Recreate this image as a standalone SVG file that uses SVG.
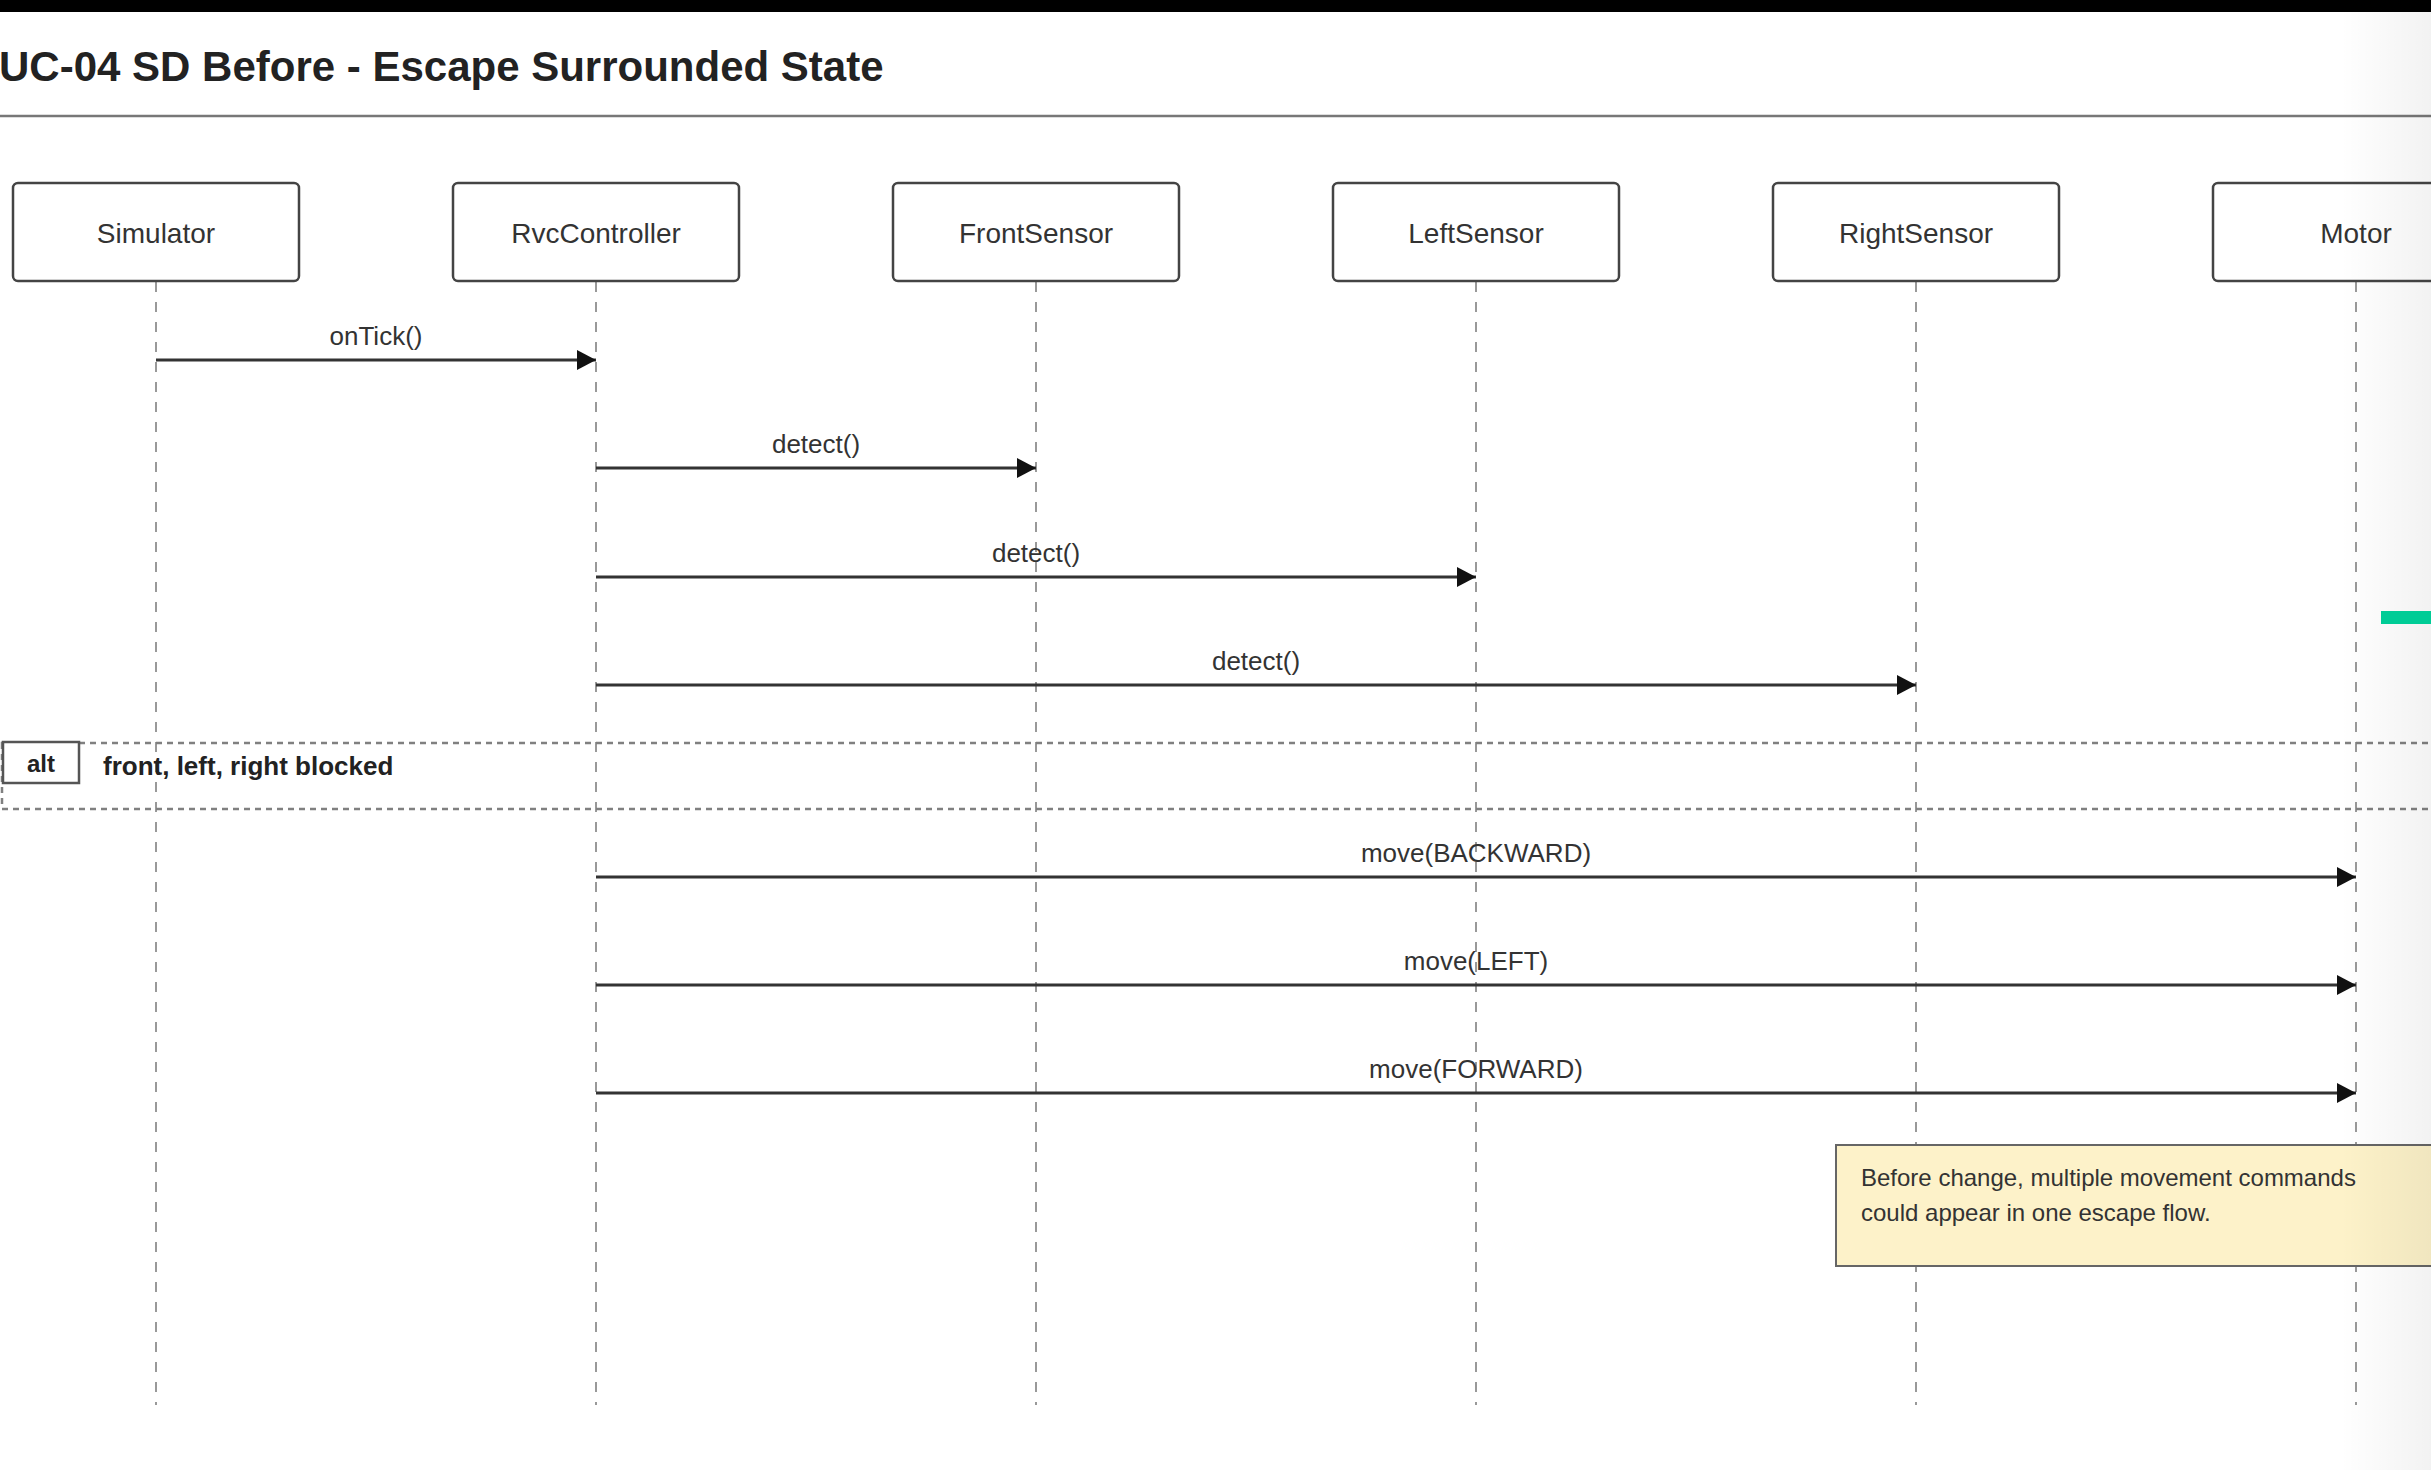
<svg xmlns="http://www.w3.org/2000/svg" width="2431" height="1470" viewBox="0 0 2431 1470">
  <defs>
    <style>
      .box { fill: #ffffff; stroke: #444444; stroke-width: 2.5; }
      .ptext { font-family: "Liberation Sans", Arial, sans-serif; font-size: 28px; fill: #333333; text-anchor: middle; }
      .life { stroke: #999999; stroke-width: 2; stroke-dasharray: 10 10; fill: none; }
      .msg { stroke: #333333; stroke-width: 3; fill: none; marker-end: url(#arrow); }
      .mtext { font-family: "Liberation Sans", Arial, sans-serif; font-size: 26px; fill: #333333; text-anchor: middle; }
      .frame { fill: none; stroke: #808080; stroke-width: 2.5; stroke-dasharray: 6 5; }
      .altbox { fill: #ffffff; stroke: #555555; stroke-width: 2.5; }
      .bold { font-family: "Liberation Sans", Arial, sans-serif; font-weight: bold; fill: #222222; }
      .note { fill: #fdf2c9; stroke: #666666; stroke-width: 2; }
      .ntext { font-family: "Liberation Sans", Arial, sans-serif; font-size: 24px; fill: #333333; }
    </style>
    <marker id="arrow" markerUnits="userSpaceOnUse" markerWidth="22" markerHeight="22" refX="19" refY="10" orient="auto">
      <path d="M0,0 L19,10 L0,20 Z" fill="#111111"/>
    </marker>
    <linearGradient id="edge" x1="0" y1="0" x2="1" y2="0">
      <stop offset="0" stop-color="#000000" stop-opacity="0"/>
      <stop offset="1" stop-color="#000000" stop-opacity="0.05"/>
    </linearGradient>
  </defs>

  <rect x="0" y="0" width="2431" height="1470" fill="#ffffff"/>
  <rect x="0" y="0" width="2431" height="12" fill="#000000"/>

  <text x="-1" y="81" class="bold" font-size="42">UC-04 SD Before - Escape Surrounded State</text>
  <line x1="0" y1="116" x2="2431" y2="116" stroke="#777777" stroke-width="2.5"/>

  <g id="lifelines">
    <line class="life" x1="156" y1="282" x2="156" y2="1405"/>
    <line class="life" x1="596" y1="282" x2="596" y2="1405"/>
    <line class="life" x1="1036" y1="282" x2="1036" y2="1405"/>
    <line class="life" x1="1476" y1="282" x2="1476" y2="1405"/>
    <line class="life" x1="1916" y1="282" x2="1916" y2="1405"/>
    <line class="life" x1="2356" y1="282" x2="2356" y2="1405"/>
  </g>

  <g id="Simulator">
    <rect class="box" x="13" y="183" width="286" height="98" rx="5"/>
    <text class="ptext" x="156" y="243">Simulator</text>
  </g>
  <g id="RvcController">
    <rect class="box" x="453" y="183" width="286" height="98" rx="5"/>
    <text class="ptext" x="596" y="243">RvcController</text>
  </g>
  <g id="FrontSensor">
    <rect class="box" x="893" y="183" width="286" height="98" rx="5"/>
    <text class="ptext" x="1036" y="243">FrontSensor</text>
  </g>
  <g id="LeftSensor">
    <rect class="box" x="1333" y="183" width="286" height="98" rx="5"/>
    <text class="ptext" x="1476" y="243">LeftSensor</text>
  </g>
  <g id="RightSensor">
    <rect class="box" x="1773" y="183" width="286" height="98" rx="5"/>
    <text class="ptext" x="1916" y="243">RightSensor</text>
  </g>
  <g id="Motor">
    <rect class="box" x="2213" y="183" width="286" height="98" rx="5"/>
    <text class="ptext" x="2356" y="243">Motor</text>
  </g>

  <g id="alt-frame">
    <rect class="frame" x="2" y="743" width="2500" height="66"/>
    <rect class="altbox" x="3" y="742" width="76" height="41"/>
    <text class="bold" x="41" y="772" font-size="24" text-anchor="middle">alt</text>
    <text class="bold" x="103" y="775" font-size="26">front, left, right blocked</text>
  </g>

  <g id="connectors">
    <line class="msg" x1="156" y1="360" x2="596" y2="360"/>
    <text class="mtext" x="376" y="345">onTick()</text>
    <line class="msg" x1="596" y1="468" x2="1036" y2="468"/>
    <text class="mtext" x="816" y="453">detect()</text>
    <line class="msg" x1="596" y1="577" x2="1476" y2="577"/>
    <text class="mtext" x="1036" y="562">detect()</text>
    <line class="msg" x1="596" y1="685" x2="1916" y2="685"/>
    <text class="mtext" x="1256" y="670">detect()</text>
    <line class="msg" x1="596" y1="877" x2="2356" y2="877"/>
    <text class="mtext" x="1476" y="862">move(BACKWARD)</text>
    <line class="msg" x1="596" y1="985" x2="2356" y2="985"/>
    <text class="mtext" x="1476" y="970">move(LEFT)</text>
    <line class="msg" x1="596" y1="1093" x2="2356" y2="1093"/>
    <text class="mtext" x="1476" y="1078">move(FORWARD)</text>
  </g>

  <g id="note">
    <rect class="note" x="1836" y="1145" width="700" height="121"/>
    <text class="ntext" x="1861" y="1186">Before change, multiple movement commands</text>
    <text class="ntext" x="1861" y="1221">could appear in one escape flow.</text>
  </g>

  <rect x="2340" y="12" width="91" height="1458" fill="url(#edge)"/>
  <rect x="2381" y="611" width="50" height="13" fill="#00cc96"/>
</svg>
